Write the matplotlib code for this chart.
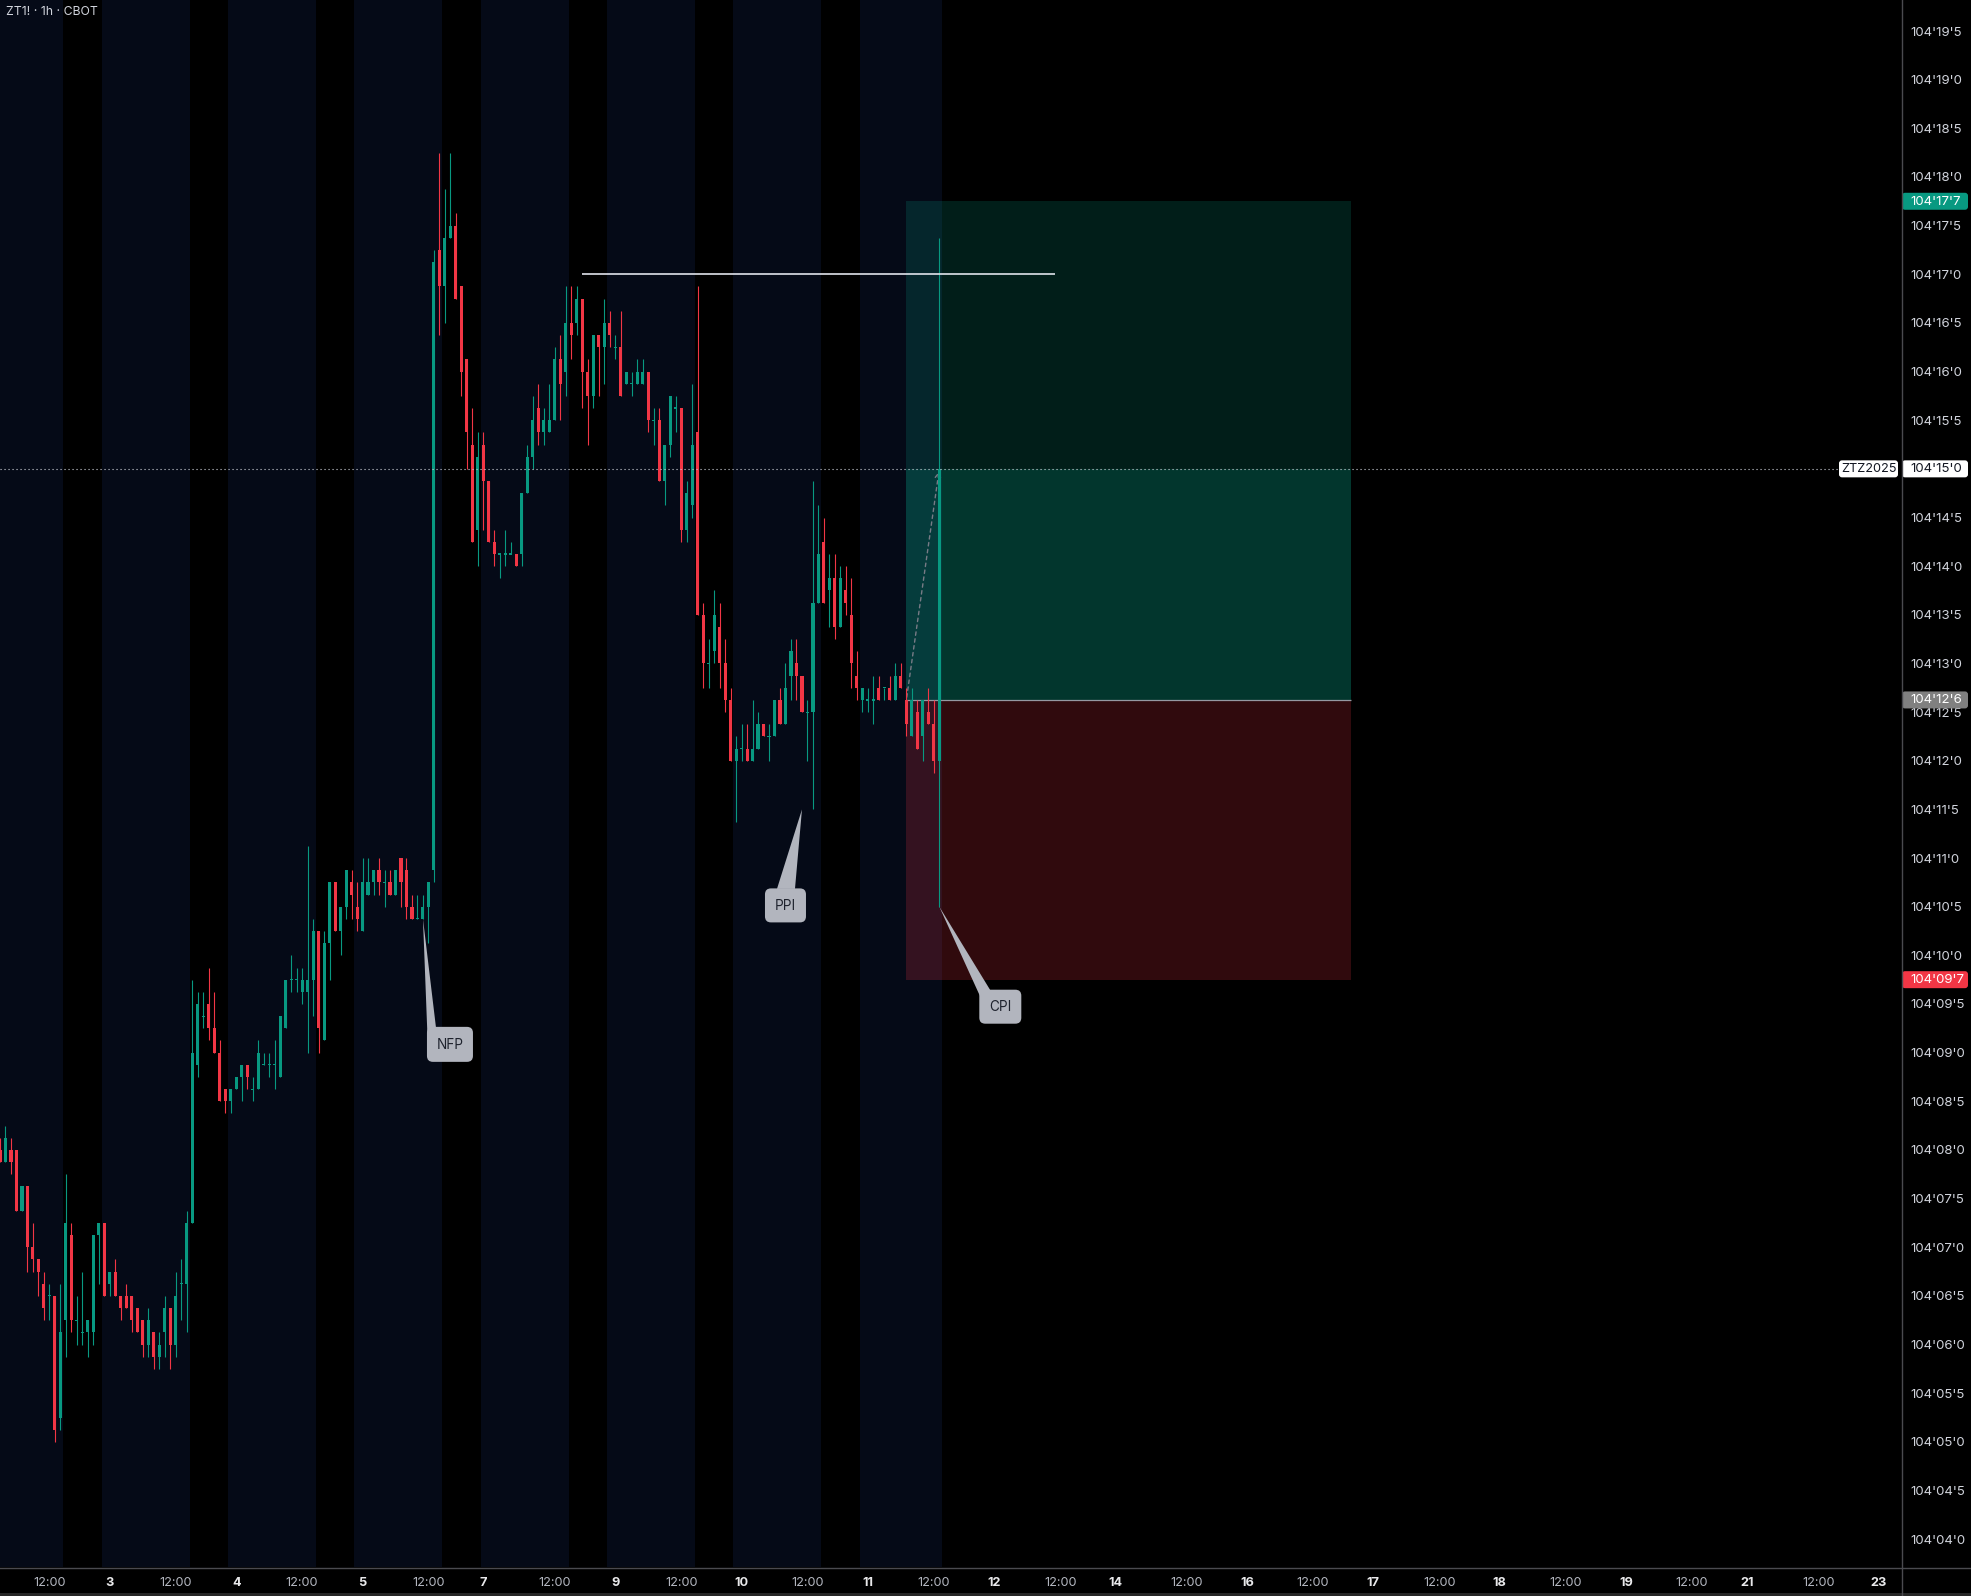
import numpy as np
import pandas as pd
import matplotlib
matplotlib.use('Agg')
import matplotlib.pyplot as plt
from matplotlib.patches import FancyBboxPatch, Polygon, Rectangle

plt.rcParams['font.family'] = ['Inter', 'DejaVu Sans']

# ==============================================================================
# DATA  (ZT1! 1h, prices in 32nds above 104, e.g. 12.625 -> 104'12'6)
# ==============================================================================

opens = [8.0, 7.875, 8.0, 8.0, 7.375, 7.625, 7.0, 6.875, 6.625, 6.5,
         6.5, 5.25, 6.25, 7.125, 6.25, 6.125, 6.125, 6.125, 7.125, 7.25,
         6.625, 6.75, 6.5, 6.5, 6.5, 6.375, 6.25, 6.0, 6.125, 5.875,
         6.125, 6.375, 6.0, 6.625, 6.625, 7.25, 8.875, 9.375, 9.5, 9.25,
         9.0, 8.625, 8.5, 8.625, 8.75, 8.875, 8.625, 8.625, 8.875, 8.875,
         8.875, 8.75, 9.25, 9.75, 9.75, 9.625, 9.625, 9.75, 10.25, 9.125,
         10.125, 10.75, 10.25, 10.5, 10.75, 10.5, 10.25, 10.625, 10.75, 10.875,
         10.75, 10.75, 10.625, 11.0, 10.875, 10.5, 10.375, 10.375, 10.5, 10.875,
         17.25, 16.875, 17.375, 17.5, 16.875, 16.125, 15.25, 14.375, 15.25, 14.875,
         14.25, 14.125, 14.125, 14.125, 14.125, 14.125, 14.75, 15.125, 15.625, 15.375,
         15.375, 15.5, 16.125, 16.0, 16.5, 16.5, 16.75, 16.0, 15.75, 16.375,
         16.25, 16.5, 16.25, 16.25, 15.875, 15.875, 15.875, 15.875, 16.0, 15.5,
         15.5, 14.875, 15.25, 15.625, 15.625, 14.375, 14.625, 15.375, 13.5, 13.0,
         13.125, 13.375, 13.0, 12.625, 12.0, 12.125, 12.125, 12.0, 12.125, 12.375,
         12.25, 12.25, 12.625, 12.375, 12.875, 13.0, 12.875, 12.5, 12.5, 13.625,
         14.25, 13.75, 13.875, 13.375, 13.75, 13.5, 12.875, 12.625, 12.625, 12.625,
         12.75, 12.75, 12.75, 12.625, 12.875, 12.625, 12.25, 12.5, 12.25, 12.5,
         12.375, 12.0]
highs = [8.125, 8.25, 8.125, 8.0, 7.625, 7.625, 7.25, 6.875, 6.75, 6.625,
         6.5, 6.625, 7.75, 7.25, 6.5, 6.75, 6.25, 7.125, 7.25, 7.25,
         6.75, 6.875, 6.5, 6.625, 6.5, 6.375, 6.25, 6.375, 6.125, 6.125,
         6.5, 6.375, 6.75, 6.875, 7.375, 9.75, 9.625, 9.625, 9.875, 9.625,
         9.125, 8.625, 8.625, 8.75, 8.875, 8.875, 8.75, 9.125, 9.0, 9.0,
         9.125, 9.375, 9.75, 10.0, 9.875, 9.875, 11.125, 10.375, 10.25, 10.25,
         10.75, 10.75, 10.5, 10.875, 10.875, 10.75, 11.0, 11.0, 10.875, 11.0,
         10.875, 10.875, 10.875, 11.0, 11.0, 10.625, 10.625, 10.625, 10.75, 17.25,
         18.25, 17.875, 18.25, 17.625, 16.875, 16.125, 15.625, 15.375, 15.375, 14.875,
         14.375, 14.125, 14.375, 14.25, 14.125, 14.75, 15.25, 15.75, 15.875, 15.625,
         15.875, 16.25, 16.375, 16.875, 16.875, 16.875, 16.75, 16.125, 16.375, 16.375,
         16.75, 16.625, 16.375, 16.625, 16.0, 16.0, 16.125, 16.125, 16.0, 15.625,
         15.625, 15.25, 15.75, 15.75, 15.625, 14.875, 15.875, 16.875, 13.625, 13.25,
         13.75, 13.625, 13.25, 12.75, 12.25, 12.375, 12.375, 12.625, 12.5, 12.375,
         12.375, 12.625, 12.75, 13.0, 13.25, 13.25, 12.875, 12.625, 14.875, 14.625,
         14.5, 14.125, 14.125, 14.0, 14.0, 13.875, 13.125, 12.75, 12.75, 12.875,
         12.875, 12.75, 12.875, 13.0, 13.0, 12.75, 12.75, 12.625, 12.625, 12.75,
         12.625, 17.375]
lows = [7.875, 7.875, 7.75, 7.375, 7.375, 6.75, 6.75, 6.5, 6.25, 6.25,
        5.0, 5.125, 5.875, 6.125, 6.0, 6.0, 5.875, 6.0, 6.625, 6.5,
        6.5, 6.5, 6.25, 6.375, 6.125, 6.125, 5.875, 5.875, 5.75, 5.75,
        5.875, 5.75, 5.875, 6.25, 6.125, 7.25, 8.75, 9.25, 9.125, 9.0,
        8.5, 8.375, 8.375, 8.625, 8.5, 8.625, 8.5, 8.625, 8.875, 8.75,
        8.625, 8.75, 9.25, 9.625, 9.625, 9.5, 9.0, 9.375, 9.0, 9.125,
        9.75, 10.25, 10.0, 10.375, 10.375, 10.25, 10.25, 10.625, 10.625, 10.625,
        10.5, 10.625, 10.625, 10.5, 10.375, 10.375, 10.375, 10.375, 10.125, 10.75,
        16.375, 16.5, 17.375, 16.75, 15.75, 15.0, 14.25, 14.0, 14.375, 14.25,
        14.0, 13.875, 14.0, 14.125, 14.0, 14.0, 14.75, 15.0, 15.25, 15.25,
        15.375, 15.5, 15.5, 15.75, 16.125, 16.375, 15.625, 15.25, 15.625, 15.75,
        15.875, 16.25, 16.125, 15.75, 15.875, 15.75, 15.875, 15.875, 15.375, 15.25,
        14.875, 14.625, 15.125, 15.375, 14.25, 14.25, 14.5, 13.5, 12.75, 12.75,
        13.0, 12.75, 12.5, 12.0, 11.375, 12.0, 12.0, 12.0, 12.125, 12.25,
        12.0, 12.25, 12.375, 12.375, 12.625, 12.625, 12.5, 12.0, 11.5, 13.625,
        13.625, 13.375, 13.25, 13.375, 13.5, 12.75, 12.625, 12.5, 12.5, 12.375,
        12.625, 12.625, 12.625, 12.625, 12.75, 12.25, 12.25, 12.125, 12.0, 12.375,
        11.875, 10.5]
closes = [7.875, 8.125, 7.875, 7.375, 7.625, 7.0, 6.875, 6.75, 6.375, 6.5,
          5.125, 6.125, 7.25, 6.25, 6.25, 6.125, 6.25, 7.125, 7.25, 6.5,
          6.75, 6.5, 6.375, 6.375, 6.25, 6.125, 6.0, 6.25, 5.875, 6.0,
          6.375, 6.0, 6.5, 6.625, 7.25, 9.0, 9.5, 9.375, 9.25, 9.0,
          8.5, 8.5, 8.625, 8.75, 8.875, 8.75, 8.625, 9.0, 8.875, 8.875,
          8.875, 9.375, 9.75, 9.75, 9.75, 9.75, 9.75, 10.25, 9.25, 10.125,
          10.75, 10.25, 10.5, 10.875, 10.625, 10.375, 10.75, 10.75, 10.875, 10.75,
          10.75, 10.625, 10.875, 10.75, 10.5, 10.375, 10.375, 10.5, 10.75, 17.125,
          16.875, 17.375, 17.5, 16.75, 16.0, 15.375, 14.25, 15.125, 14.875, 14.25,
          14.125, 14.125, 14.125, 14.125, 14.0, 14.75, 15.125, 15.5, 15.375, 15.5,
          15.5, 16.125, 15.875, 16.5, 16.375, 16.75, 16.0, 15.75, 16.375, 16.25,
          16.5, 16.375, 16.25, 15.75, 16.0, 15.875, 16.0, 16.0, 15.5, 15.5,
          14.875, 15.25, 15.75, 15.625, 14.375, 14.75, 15.25, 13.5, 13.0, 13.0,
          13.5, 13.0, 12.625, 12.0, 12.125, 12.125, 12.0, 12.125, 12.375, 12.25,
          12.25, 12.625, 12.375, 12.75, 13.125, 12.875, 12.5, 12.5, 13.625, 14.125,
          13.625, 13.875, 13.375, 13.875, 13.625, 13.0, 12.75, 12.75, 12.625, 12.625,
          12.625, 12.75, 12.625, 12.875, 12.75, 12.375, 12.625, 12.125, 12.625, 12.375,
          12.0, 15.0]

symbol = 'ZTZ2025'
last_price = 15.0

# long position tool
pos_start, pos_end = 165, 246
entry, target, stop = 12.625, 17.75, 9.75

# horizontal level drawn on the chart
level, level_from, level_to = 17.0, 106, 192

# event callouts: label, anchor bar, anchor price
events = ['NFP', 'PPI', 'CPI']
event_bars = [77, 146, 171]
event_prices = [10.375, 11.5, 10.5]

# ==============================================================================
# LAYOUT / STYLE
# ==============================================================================

W, H = 1971, 1596
AXIS_X = 1901          # right price scale starts here
AXIS_Y = 1567          # time scale starts here
BAR_PX = 5.493         # pixel spacing of one bar
PX32 = 97.3            # pixels per 1/32

GREEN = '#089981'
RED = '#f23645'
NAVY = '#050a17'
LINE = '#4a4a4f'
TXT = '#d1d4dc'

def fmt(p):
    whole = int(np.floor(p + 1e-9))
    frac = int(np.floor((p - whole) * 10 + 1e-9))
    return f"104'{whole:02d}'{frac}"

# session calendar (BST): daily break at 22:00, weekend Fri 22:00 -> Sun 23:00
t = pd.date_range('2025-09-02 03:00', '2025-09-27 00:00', freq='h')
keep = ((t.hour != 22) & (t.dayofweek != 5)
        & ~((t.dayofweek == 6) & (t.hour < 23))
        & ~((t.dayofweek == 4) & (t.hour == 23)))
bars = t[keep]

fig = plt.figure(figsize=(W / 100, H / 100), dpi=100, facecolor='black')
ax = fig.add_axes([0, (H - AXIS_Y) / H, AXIS_X / W, AXIS_Y / H])
ax.set_facecolor('black')
xmax = AXIS_X / BAR_PX
ytop = 19.5 + 31 / PX32
ax.set_xlim(0, xmax)
ax.set_ylim(ytop - AXIS_Y / PX32, ytop)
for s in ax.spines.values():
    s.set_visible(False)

n = len(opens)
idx = np.arange(n)

# session background (navy for 23:00 - 14:00 bars)
navy = np.isin(bars[:n].hour, [23] + list(range(0, 15)))
start = None
for i in range(n + 1):
    on = i < n and navy[i]
    if on and start is None:
        start = i
    if not on and start is not None:
        ax.axvspan(start - 0.5, i - 0.5, color=NAVY, lw=0, zorder=0)
        start = None

# position tool
w = pos_end - pos_start
ax.add_patch(Rectangle((pos_start, entry), w, target - entry, color=GREEN, alpha=0.2, lw=0, zorder=1))
ax.add_patch(Rectangle((pos_start, entry), w, last_price - entry, color=GREEN, alpha=0.2, lw=0, zorder=1))
ax.add_patch(Rectangle((pos_start, stop), w, entry - stop, color=RED, alpha=0.2, lw=0, zorder=1))
ax.hlines(entry, pos_start, pos_end, color='#9598a1', lw=0.9, zorder=2)
ax.annotate('', xy=(n - 1, last_price), xytext=(pos_start, entry),
            arrowprops=dict(arrowstyle='->,head_length=0.35,head_width=0.2',
                            color='#787b86', lw=1.0, linestyle=(0, (2.5, 2.5))), zorder=2)

# candles
o, h, l, c = map(np.array, (opens, highs, lows, closes))
col = np.where(c >= o, GREEN, RED)
ax.vlines(idx, l, h, colors=col, lw=0.8, zorder=3)
body = np.maximum(np.abs(c - o), 0.012)
ax.bar(idx, body, bottom=np.minimum(o, c) - (body - np.abs(c - o)) / 2,
       width=0.56, color=col, lw=0, zorder=4)

# level line
ax.hlines(level, level_from, level_to, color='#e0e3eb', lw=1.2, zorder=5)

# price scale
yt = np.arange(4.0, 19.51, 0.5)
ax.yaxis.tick_right()
ax.set_yticks(yt, [fmt(v) for v in yt])
ax.tick_params(axis='y', length=0, pad=7, labelsize=9.5, labelcolor=TXT)

# time scale
ticks, labels = [], []
for i, ts in enumerate(bars):
    if i > xmax:
        break
    if ts.hour == 12:
        ticks.append(i); labels.append('12:00')
    elif (ts.dayofweek == 6 and ts.hour == 23) or (ts.hour == 0 and ts.dayofweek != 0):
        ticks.append(i); labels.append(str(ts.day))
ax.set_xticks(ticks, labels)
ax.tick_params(axis='x', length=0, pad=7, labelsize=9.2)
for tl in ax.get_xticklabels():
    if tl.get_text() == '12:00':
        tl.set_color('#b2b5be')
    else:
        tl.set_color('#e8e8ea')
        tl.set_fontweight('bold')

# ==============================================================================
# OVERLAY (pixel coordinates, origin top-left)
# ==============================================================================

ov = fig.add_axes([0, 0, 1, 1], zorder=10)
ov.set_xlim(0, W)
ov.set_ylim(H, 0)
ov.axis('off')
ov.patch.set_alpha(0)

def to_px(x, p):
    X, Y = ax.transData.transform((x, p))
    return X, H - Y

# scale borders
ov.plot([AXIS_X + 0.5, AXIS_X + 0.5], [0, H], color=LINE, lw=1)
ov.plot([0, W], [AXIS_Y + 0.5, AXIS_Y + 0.5], color=LINE, lw=1)
ov.add_patch(Rectangle((0, H - 3), W, 3, color='#262626', lw=0))

# last price dotted line + symbol tag
_, y_last = to_px(0, last_price)
ov.plot([0, 1838], [y_last, y_last], color=TXT, lw=0.8, linestyle=(0, (1, 2.6)))
ov.add_patch(FancyBboxPatch((1839, y_last - 8.5), 59, 17,
                            boxstyle='round,pad=0,rounding_size=3', fc='white', ec='none'))
ov.text(1868.5, y_last + 0.5, symbol, ha='center', va='center', fontsize=9.2, color='#131722')

def price_tag(p, face, color):
    _, y = to_px(0, p)
    ov.add_patch(FancyBboxPatch((AXIS_X + 1, y - 8.5), 66, 17,
                                boxstyle='round,pad=0,rounding_size=3', fc=face, ec='none'))
    ov.text(AXIS_X + 9.7, y + 0.5, fmt(p), ha='left', va='center', fontsize=9.5, color=color)

price_tag(target, GREEN, 'white')
price_tag(last_price, 'white', '#131722')
price_tag(entry, '#808080', 'white')
price_tag(stop, RED, 'white')

# event callouts (box offset from the tip, in px)
box_offsets = [(4, 108, 46, 35), (-37, 79, 41, 34), (40, 83, 42, 34)]
base_offsets = [((0.5, 9), (9, 0.5)), ((12, 0.5), (30, 0.5)), ((0.5, 6), (11, 0.5))]
for name, b, p, (dx, dy, bw, bh), (b1, b2) in zip(events, event_bars, event_prices,
                                                 box_offsets, base_offsets):
    tx, ty = to_px(b, p)
    x0, y0 = tx + dx, ty + dy
    ov.add_patch(Polygon([(tx, ty), (x0 + b1[0], y0 + b1[1]), (x0 + b2[0], y0 + b2[1])],
                         closed=True, fc='#b2b5be', ec='none'))
    ov.add_patch(FancyBboxPatch((x0, y0), bw, bh, boxstyle='round,pad=0,rounding_size=6',
                                fc='#b2b5be', ec='none'))
    ov.text(x0 + bw / 2, y0 + bh / 2 + 0.5, name, ha='center', va='center',
            fontsize=9.8, color='#1e222d')

# chart title
ov.text(6.5, 12, 'ZT1! · 1h · CBOT', ha='left', va='center', fontsize=8.8, color=TXT)

fig.savefig('out.png', dpi=100, facecolor='black')
